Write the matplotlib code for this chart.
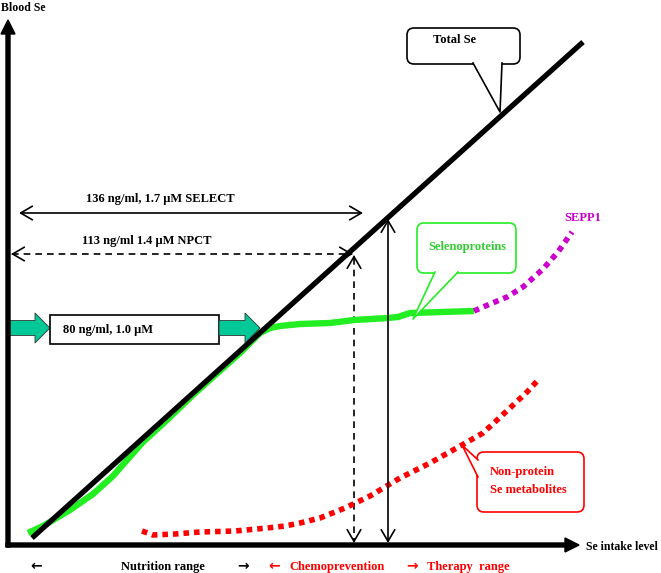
import matplotlib.pyplot as plt
import matplotlib.patches as patches

# schematic curves, in image units (x: Se intake, y: blood Se, y grows downward)
total_se_x = [32, 583]
total_se_y = [538, 42]

seleno_x = [28, 43, 70, 93, 113, 120, 143, 167, 193, 213, 240, 260, 270, 280, 300, 330, 354, 388, 398, 410, 474]
seleno_y = [533, 526, 510, 494, 476, 468, 442, 420, 395, 377, 353, 333, 328, 326, 324, 323, 320, 318, 317, 313, 311]

sepp1_x = [474, 490, 507, 523, 543, 558, 572]
sepp1_y = [311, 304, 297, 287, 269, 252, 232]

nonprot_x = [142, 153, 175, 200, 235, 267, 285, 300, 320, 345, 370, 400, 430, 462, 483, 510, 527, 540]
nonprot_y = [531, 535, 534, 532, 531, 528, 526, 523, 518, 508, 496, 478, 463, 445, 433, 408, 392, 378]

range_labels = ['\u2190', 'Nutrition range', '\u2192', '\u2190', 'Chemoprevention', '\u2192', 'Therapy  range']
range_pos = [36, 163, 243, 274, 337, 412, 468]
range_colors = ['black', 'black', 'black', 'red', 'red', 'red', 'red']

select_text = '136 ng/ml, 1.7 \u03bcM SELECT'
npct_text = '113 ng/ml 1.4 \u03bcM NPCT'
rda_text = '80 ng/ml, 1.0 \u03bcM'

FONT = ['Liberation Serif', 'DejaVu Serif']
plt.rcParams['font.family'] = FONT

fig = plt.figure(figsize=(6.61, 5.73), dpi=100)
ax = fig.add_axes([0, 0, 1, 1])
ax.set_xlim(0, 661)
ax.set_ylim(573, 0)
ax.axis('off')

teal = '#00c896'
green = '#22ee22'

# axes with filled heads
ax.add_patch(patches.FancyArrow(8, 547, 0, -527, width=4, head_width=14, head_length=14,
                                length_includes_head=True, color='black', zorder=5))
ax.add_patch(patches.FancyArrow(6, 545, 573, 0, width=4, head_width=14, head_length=14,
                                length_includes_head=True, color='black', zorder=5))
ax.text(1, 8, 'Blood Se', fontsize=8.5, fontweight='bold', va='center', ha='left')
ax.text(586, 547, 'Se intake level', fontsize=8.5, fontweight='bold', va='center', ha='left')

# ranges under the x axis
for lab, xp, c in zip(range_labels, range_pos, range_colors):
    if lab in ('\u2190', '\u2192'):
        ax.text(xp, 566, lab, fontsize=10, fontweight='bold', color=c, ha='center', va='center',
                family=['DejaVu Sans'])
    else:
        ax.text(xp, 567, lab, fontsize=9, fontweight='bold', color=c, ha='center', va='center')

# curves
ax.plot(seleno_x, seleno_y, color=green, lw=4.6, solid_capstyle='butt', zorder=3)
ax.plot(total_se_x, total_se_y, color='black', lw=3.8, solid_capstyle='butt', zorder=4)
ax.plot(sepp1_x, sepp1_y, color='#cc00cc', lw=4, linestyle=(0, (1, 0.9)), dash_capstyle='butt', zorder=3)
ax.plot(nonprot_x, nonprot_y, color='red', lw=4, linestyle=(0, (1, 0.9)), dash_capstyle='butt', zorder=3)
ax.text(583, 218, 'SEPP1', fontsize=9, fontweight='bold', color='#cc00cc', ha='center', va='center')

# SELECT / NPCT horizontal arrows
ax.annotate('', xy=(363, 213), xytext=(19, 213),
            arrowprops=dict(arrowstyle='<->,head_length=0.6,head_width=0.35', lw=1.2,
                            color='black', mutation_scale=14, shrinkA=0, shrinkB=0))
ax.text(160, 199, select_text, fontsize=9, fontweight='bold', ha='center', va='center')

ax.plot([12, 352], [254, 254], color='black', lw=1.2, linestyle=(0, (4, 3)))
for x0, x1 in [(14, 11), (350, 353)]:
    ax.annotate('', xy=(x1, 254), xytext=(x0, 254),
                arrowprops=dict(arrowstyle='->,head_length=0.6,head_width=0.35', lw=1.2,
                                color='black', mutation_scale=14, shrinkA=0, shrinkB=0))
ax.text(147, 241, npct_text, fontsize=9, fontweight='bold', ha='center', va='center')

# vertical arrows to the Total Se line
ax.annotate('', xy=(388, 219), xytext=(388, 543),
            arrowprops=dict(arrowstyle='<->,head_length=0.6,head_width=0.35', lw=1.2,
                            color='black', mutation_scale=14, shrinkA=0, shrinkB=0))
ax.plot([354, 354], [258, 541], color='black', lw=1.2, linestyle=(0, (4, 3)))
for y0, y1 in [(258, 255), (540, 543)]:
    ax.annotate('', xy=(354, y1), xytext=(354, y0),
                arrowprops=dict(arrowstyle='->,head_length=0.6,head_width=0.35', lw=1.2,
                                color='black', mutation_scale=14, shrinkA=0, shrinkB=0))

# teal block arrows and the 80 ng/ml box
ax.add_patch(patches.FancyArrow(9, 328, 41, 0, width=15, head_width=30, head_length=15,
                                length_includes_head=True, facecolor=teal, edgecolor='#333333',
                                lw=0.6, zorder=4))
ax.add_patch(patches.Rectangle((50, 315), 169, 29, facecolor='white', edgecolor='black', lw=1.2, zorder=4))
ax.text(63, 330, rda_text, fontsize=9, fontweight='bold', ha='left', va='center', zorder=5)
ax.add_patch(patches.FancyArrow(219, 328, 41, 0, width=15, head_width=30, head_length=15,
                                length_includes_head=True, facecolor=teal, edgecolor='#333333',
                                lw=0.6, zorder=4))


def callout(x, y, w, h, base, tip, color, lw=1.2):
    box = patches.FancyBboxPatch((x, y), w, h, boxstyle='round,pad=0,rounding_size=7',
                                 facecolor='white', edgecolor=color, lw=lw, zorder=6)
    ax.add_patch(box)
    tri = patches.Polygon([base[0], tip, base[1]], closed=True, facecolor='white',
                          edgecolor='none', zorder=7)
    ax.add_patch(tri)
    ax.plot([base[0][0], tip[0], base[1][0]], [base[0][1], tip[1], base[1][1]],
            color=color, lw=lw, zorder=8)


callout(407, 28, 113, 36, [(473, 63), (502, 63)], (500, 112), 'black')
ax.text(433, 40, 'Total Se', fontsize=9, fontweight='bold', ha='left', va='center', zorder=9)

callout(417, 223, 99, 50, [(435, 272), (458, 272)], (413, 319), '#22ee22')
ax.text(467, 247, 'Selenoproteins', fontsize=9, fontweight='bold', color='#33cc33',
        ha='center', va='center', zorder=9)

callout(477, 452, 107, 60, [(478, 460), (478, 477)], (462, 445), 'red')
ax.text(490, 472, 'Non-protein', fontsize=9, fontweight='bold', color='red',
        ha='left', va='center', zorder=9)
ax.text(490, 490, 'Se metabolites', fontsize=9, fontweight='bold', color='red',
        ha='left', va='center', zorder=9)

fig.savefig('out.png', dpi=100)
